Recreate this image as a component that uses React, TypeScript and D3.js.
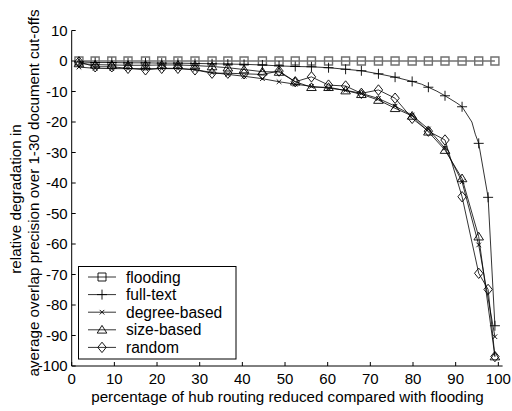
import React from 'react';
import * as d3 from 'd3';

// ---------- data ----------
const xGrid = [1.7, 5.5, 9.4, 13.2, 17.3, 21.1, 24.9, 28.9, 32.9, 36.6, 40.4, 44.7, 48.6, 52.4, 56.2, 60.2, 64.2, 67.9, 71.9, 75.8, 79.8, 83.6, 87.5, 91.5, 95.4, 99.2];

const floodingY = [0, 0, 0, 0, 0, 0, 0, 0, 0, 0, 0, 0, 0, 0, 0, 0, 0, 0, 0, 0, 0, 0, 0, 0, 0, 0];

const fullTextX = [1.7, 5.5, 9.4, 13.2, 17.3, 21.1, 24.9, 28.9, 32.9, 36.6, 40.4, 44.7, 48.6, 52.4, 56.2, 60.2, 64.2, 67.9, 71.9, 75.8, 79.8, 83.6, 87.5, 91.5, 95.4, 97.6, 99.2];
const fullTextY = [-0.3, -0.5, -0.5, -0.6, -0.6, -0.7, -0.7, -0.8, -0.9, -1.0, -1.1, -1.3, -1.6, -1.8, -1.9, -2.2, -2.7, -3.2, -4.2, -5.3, -6.7, -8.6, -11.4, -15.0, -27.0, -44.7, -86.8];
// extra line vertices of the full-text curve (no marker drawn)
const fullTextExtraX = [82.0, 85.6, 90.3, 93.8, 94.6];
const fullTextExtraY = [-7.6, -9.9, -13.8, -20.0, -24.0];

const degreeY = [-2.0, -2.4, -2.5, -2.5, -2.5, -2.5, -2.5, -2.8, -3.8, -4.4, -5.0, -5.8, -6.8, -7.6, -8.3, -8.9, -9.6, -10.6, -12.3, -14.8, -17.8, -22.3, -28.6, -39.6, -60.3, -90.4];

const sizeY = [-0.8, -1.2, -1.3, -1.4, -1.4, -1.3, -1.3, -1.5, -1.8, -2.2, -2.8, -3.5, -3.6, -6.8, -8.6, -8.6, -9.7, -10.9, -12.8, -15.5, -18.0, -23.2, -29.2, -38.5, -57.6, -96.9];

const randomX = [1.7, 5.5, 9.4, 13.2, 17.3, 21.1, 24.9, 28.9, 32.9, 36.6, 40.4, 44.7, 48.6, 52.4, 56.2, 60.2, 64.2, 67.9, 71.9, 75.8, 79.8, 83.6, 87.5, 91.5, 95.4, 97.6, 99.2];
const randomY = [-0.3, -1.9, -1.9, -2.4, -2.9, -2.4, -2.4, -2.9, -4.0, -4.0, -4.2, -4.4, -3.3, -6.8, -5.2, -7.9, -8.2, -10.6, -9.5, -12.2, -18.8, -23.0, -25.9, -44.5, -69.6, -74.9, -96.9];

const seriesNames = ['flooding', 'full-text', 'degree-based', 'size-based', 'random'];
const xTicks = [0, 10, 20, 30, 40, 50, 60, 70, 80, 90, 100];
const yTicks = [10, 0, -10, -20, -30, -40, -50, -60, -70, -80, -90, -100];

const xLabel = 'percentage of hub routing reduced compared with flooding';
const yLabel1 = 'relative degradation in';
const yLabel2 = 'average overlap precision over 1-30 document cut-offs';

// ---------- layout ----------
const W = 512;
const H = 411;
const FONT = '"Liberation Sans", Arial, sans-serif';

type Shape = 'square' | 'plus' | 'x' | 'triangle' | 'diamond';

function markerPath(shape: Shape, cx: number, cy: number): string {
  switch (shape) {
    case 'square': {
      const s = 4;
      return `M${cx - s},${cy - s}H${cx + s}V${cy + s}H${cx - s}Z`;
    }
    case 'plus': {
      const s = 5;
      return `M${cx - s},${cy}H${cx + s}M${cx},${cy - s}V${cy + s}`;
    }
    case 'x': {
      const s = 2.3;
      return `M${cx - s},${cy - s}L${cx + s},${cy + s}M${cx - s},${cy + s}L${cx + s},${cy - s}`;
    }
    case 'triangle': {
      const w = 4.8, h = 4.4;
      return `M${cx},${cy - h}L${cx + w},${cy + h * 0.75}L${cx - w},${cy + h * 0.75}Z`;
    }
    case 'diamond': {
      const w = 4.2, h = 5.2;
      return `M${cx},${cy - h}L${cx + w},${cy}L${cx},${cy + h}L${cx - w},${cy}Z`;
    }
  }
}

export default function App() {
  const x = d3.scaleLinear().domain([0, 101]).range([71.7, 502.6]);
  const y = d3.scaleLinear().domain([-100, 10]).range([366, 30.5]);
  const line = d3.line<[number, number]>().x((d) => x(d[0])).y((d) => y(d[1]));

  const zip = (xs: number[], ys: number[]) => xs.map((v, i) => [v, ys[i]] as [number, number]);

  const fullTextLine = zip(fullTextX, fullTextY)
    .concat(zip(fullTextExtraX, fullTextExtraY))
    .sort((a, b) => a[0] - b[0]);

  const series = [
    { name: seriesNames[0], shape: 'square' as Shape, color: '#707070', width: 1.4, line: zip(xGrid, floodingY), pts: zip(xGrid, floodingY) },
    { name: seriesNames[1], shape: 'plus' as Shape, color: '#000', width: 0.8, line: fullTextLine, pts: zip(fullTextX, fullTextY) },
    { name: seriesNames[2], shape: 'x' as Shape, color: '#000', width: 0.8, line: zip(xGrid, degreeY), pts: zip(xGrid, degreeY) },
    { name: seriesNames[3], shape: 'triangle' as Shape, color: '#000', width: 0.8, line: zip(xGrid, sizeY), pts: zip(xGrid, sizeY) },
    { name: seriesNames[4], shape: 'diamond' as Shape, color: '#000', width: 0.8, line: zip(randomX, randomY), pts: zip(randomX, randomY) },
  ];

  const x0 = x(0);
  const xEnd = x(101);
  const yBottom = y(-100);
  const yTop = y(10);

  const legend = { x: 78.5, y: 266.5, w: 157.5, h: 92.5, row0: 277, step: 17.6, l0: 88, l1: 116, tx: 126 };

  return (
    <svg width={W} height={H} style={{ position: 'absolute', left: 0, top: 0, background: '#fff' }} fontFamily={FONT}>
      <rect x={0} y={0} width={W} height={H} fill="#fff" />
      {/* series */}
      {series.map((s) => (
        <g key={s.name}>
          <path d={line(s.line) || ''} fill="none" stroke={s.color} strokeWidth={s.width} />
          {s.pts.map((p, i) => (
            <path key={i} d={markerPath(s.shape, x(p[0]), y(p[1]))} fill="none" stroke={s.color} strokeWidth={s.shape === 'square' ? 1.4 : 0.9} />
          ))}
        </g>
      ))}
      {/* axes */}
      <line x1={x0} x2={x0} y1={yTop} y2={yBottom} stroke="#000" strokeWidth={1} />
      <line x1={x0} x2={xEnd} y1={yBottom} y2={yBottom} stroke="#000" strokeWidth={1} />
      {yTicks.map((t) => (
        <g key={'y' + t}>
          <line x1={x0} x2={x0 + 4} y1={y(t)} y2={y(t)} stroke="#000" />
          <text x={x0 - 4} y={y(t)} dy="0.36em" textAnchor="end" fontSize={15} fill="#000">{t}</text>
        </g>
      ))}
      {xTicks.map((t) => (
        <g key={'x' + t}>
          <line x1={x(t)} x2={x(t)} y1={yBottom} y2={yBottom - 4} stroke="#000" />
          <text x={x(t)} y={383.5} textAnchor="middle" fontSize={15} fill="#000">{t}</text>
        </g>
      ))}
      {/* axis labels */}
      <text x={287.5} y={401.5} textAnchor="middle" fontSize={15.2} fill="#000">{xLabel}</text>
      <text transform={`translate(21,199) rotate(-90)`} textAnchor="middle" fontSize={15.2} fill="#000">{yLabel1}</text>
      <text transform={`translate(38.5,193) rotate(-90)`} textAnchor="middle" fontSize={15.2} fill="#000">{yLabel2}</text>
      {/* legend */}
      <rect x={legend.x} y={legend.y} width={legend.w} height={legend.h} fill="#fff" stroke="#000" strokeWidth={1} />
      {series.map((s, i) => {
        const cy = legend.row0 + i * legend.step;
        const cx = (legend.l0 + legend.l1) / 2;
        return (
          <g key={'lg' + s.name}>
            <line x1={legend.l0} x2={legend.l1} y1={cy} y2={cy} stroke="#000" strokeWidth={0.8} />
            <path d={markerPath(s.shape, cx, cy)} fill="none" stroke="#000" strokeWidth={0.9} />
            <text x={legend.tx} y={cy} dy="0.36em" fontSize={15.6} fill="#000">{s.name}</text>
          </g>
        );
      })}
    </svg>
  );
}
